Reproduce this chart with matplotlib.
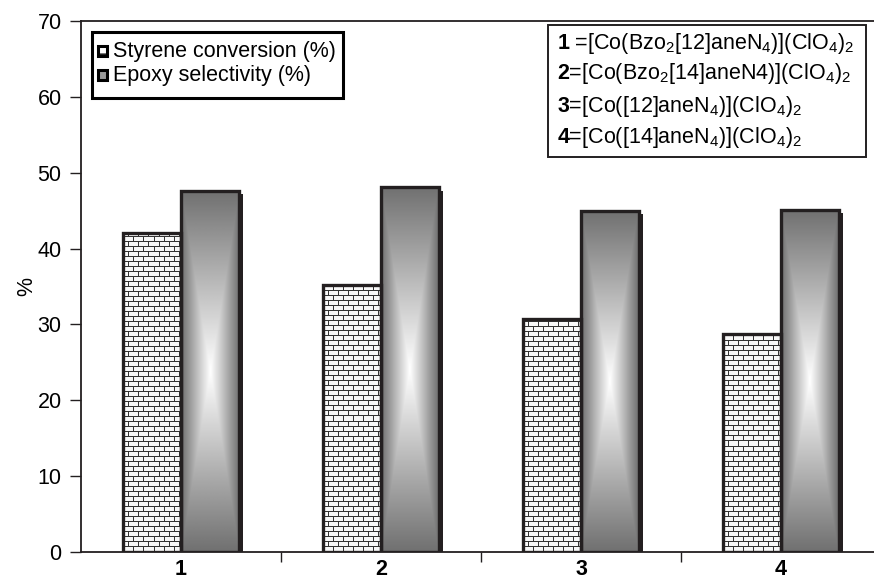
import numpy as np
import matplotlib
matplotlib.use("Agg")
import matplotlib.pyplot as plt
from matplotlib.patches import Rectangle

plt.rcParams['font.family'] = ['Liberation Sans', 'DejaVu Sans']
plt.rcParams['mathtext.fontset'] = 'custom'
plt.rcParams['mathtext.rm'] = 'Liberation Sans'
plt.rcParams['mathtext.bf'] = 'Liberation Sans:bold'

categories = ['1', '2', '3', '4']
styrene_conversion = [42.0, 35.2, 30.7, 28.8]
epoxy_selectivity = [47.6, 48.1, 45.0, 45.1]
yticks = [0, 10, 20, 30, 40, 50, 60, 70]
legend_labels = ['Styrene conversion (%)', 'Epoxy selectivity (%)']
compound_labels = [
    r'$\mathbf{1}$ =[Co(Bzo$_2$[12]aneN$_4$)](ClO$_4$)$_2$',
    r'$\mathbf{2}$=[Co(Bzo$_2$[14]aneN4)](ClO$_4$)$_2$',
    r'$\mathbf{3}$=[Co([12]aneN$_4$)](ClO$_4$)$_2$',
    r'$\mathbf{4}$=[Co([14]aneN$_4$)](ClO$_4$)$_2$',
]

EDGE = '#231f20'
W = 0.29
FW, FH = 874, 583
AX_L, AX_W = 81, 800
AX_B, AX_H = 31, 531
fig = plt.figure(figsize=(FW/100, FH/100), dpi=100)
ax = fig.add_axes([AX_L/FW, AX_B/FH, AX_W/FW, AX_H/FH])
ax.set_xlim(0.5, 4.5)
ax.set_ylim(0, 70)

px_per_unit_y = AX_H/70
px_per_unit_x = AX_W/4


def fx(px):
    return px / FW


def fy(py):
    return 1 - py / FH


def brick_texture(h_px, w_px):
    yy, xx = np.mgrid[0:h_px, 0:w_px]
    yy = yy[::-1]
    row = yy // 5
    horiz = (yy % 5) == 0
    offs = np.where(row % 2 == 0, 0, 5)
    vert = ((xx + offs) % 10) == 0
    img = np.where(horiz | vert, 0.2, 0.97)
    return img


def rect_gradient(h_px, w_px):
    y = np.linspace(-1, 1, h_px)[:, None]
    x = np.linspace(-1, 1, w_px)[None, :]
    t = np.maximum(np.abs(x) * np.ones_like(y), np.abs(y) * np.ones_like(x))
    return 1.0 - 0.56 * t


for i, (s, e) in enumerate(zip(styrene_conversion, epoxy_selectivity)):
    c = i + 1
    h = int(round(s * px_per_unit_y))
    w = int(round(W * px_per_unit_x))
    ax.imshow(brick_texture(h, w), cmap='gray', vmin=0, vmax=1,
              extent=(c - W, c, 0, s), aspect='auto', zorder=2,
              interpolation='nearest')
    ax.add_patch(Rectangle((c - W, 0), W, s, fill=False, edgecolor=EDGE,
                           lw=2.4, zorder=3))
    ax.add_patch(Rectangle((c + 0.02, 0), W, e - 0.45, facecolor=EDGE,
                           edgecolor='none', zorder=1.5))
    he = int(round(e * px_per_unit_y))
    ax.imshow(rect_gradient(he, w), cmap='gray', vmin=0, vmax=1,
              extent=(c, c + W, 0, e), aspect='auto', zorder=2,
              interpolation='bilinear')
    ax.add_patch(Rectangle((c, 0), W, e, fill=False, edgecolor=EDGE,
                           lw=2.4, zorder=3))

ax.set_xlim(0.5, 4.5)
ax.set_ylim(0, 70)

ax.spines['right'].set_visible(False)
for side in ['left', 'bottom', 'top']:
    ax.spines[side].set_color(EDGE)
    ax.spines[side].set_linewidth(1.3)

ax.set_yticks(yticks)
ax.tick_params(axis='y', direction='out', length=8, width=1, colors=EDGE,
               labelsize=15.5, labelcolor='black', pad=6)
ax.set_xticks([1.5, 2.5, 3.5], minor=False)
ax.set_xticklabels([])
ax.tick_params(axis='x', which='major', direction='out', length=7, width=1,
               colors=EDGE)
ax.set_xticks([1, 2, 3, 4], minor=True)
ax.set_xticklabels(categories, minor=True, fontweight='bold', fontsize=15.5)
ax.tick_params(axis='x', which='minor', length=0, pad=5, labelcolor='black')
ax.set_ylabel('%', fontsize=15.5)
ax.yaxis.set_label_coords((37 - AX_L)/AX_W, 0.5)

# legend drawn by hand in figure pixels
lx0, lx1, ly0, ly1 = 92, 343, 32, 98
fig.patches.append(Rectangle((fx(lx0), fy(ly1)), (lx1 - lx0)/FW,
                             (ly1 - ly0)/FH, transform=fig.transFigure,
                             facecolor='white', edgecolor='black', lw=2.2,
                             zorder=5))
row_y = [51, 75]
msz = 9
marker_styles = [dict(facecolor='white', hatch='--'),
                 dict(facecolor='#9a9a9a')]
for lab, yy, st in zip(legend_labels, row_y, marker_styles):
    fig.patches.append(Rectangle((fx(98), fy(yy + msz/2)), msz/FW, msz/FH,
                                 transform=fig.transFigure, edgecolor='black',
                                 lw=2.2, zorder=6, **st))
    fig.text(fx(113), fy(yy), lab, fontsize=15.5, va='center', ha='left',
             zorder=7)

bx0, bx1 = 548, 866
by0, by1 = 25, 157
fig.patches.append(Rectangle((fx(bx0), fy(by1)), (bx1 - bx0)/FW,
                             (by1 - by0)/FH, transform=fig.transFigure,
                             fill=False, edgecolor=EDGE, lw=1.4))
line_y = [43, 74, 106, 137]
for lab, yy in zip(compound_labels, line_y):
    fig.text(fx(557), fy(yy), lab, fontsize=15.5, va='center', ha='left')

fig.savefig('out.png', dpi=100)
